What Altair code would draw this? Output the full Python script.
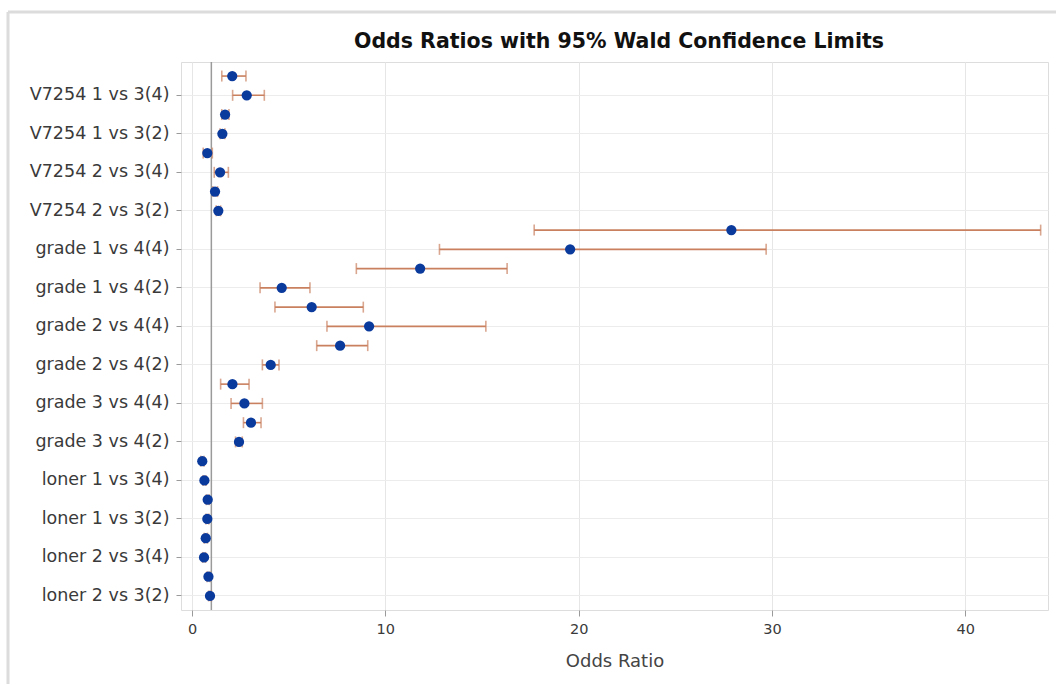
import altair as alt
import pandas as pd

labels = [
    "V7254 1 vs 3(5)", "V7254 1 vs 3(4)", "V7254 1 vs 3(3)", "V7254 1 vs 3(2)",
    "V7254 2 vs 3(5)", "V7254 2 vs 3(4)", "V7254 2 vs 3(3)", "V7254 2 vs 3(2)",
    "grade 1 vs 4(5)", "grade 1 vs 4(4)", "grade 1 vs 4(3)", "grade 1 vs 4(2)",
    "grade 2 vs 4(5)", "grade 2 vs 4(4)", "grade 2 vs 4(3)", "grade 2 vs 4(2)",
    "grade 3 vs 4(5)", "grade 3 vs 4(4)", "grade 3 vs 4(3)", "grade 3 vs 4(2)",
    "loner 1 vs 3(5)", "loner 1 vs 3(4)", "loner 1 vs 3(3)", "loner 1 vs 3(2)",
    "loner 2 vs 3(5)", "loner 2 vs 3(4)", "loner 2 vs 3(3)", "loner 2 vs 3(2)",
]
shown_labels = [l for i, l in enumerate(labels) if i % 2 == 1]

odds = [2.08, 2.83, 1.71, 1.57, 0.79, 1.45, 1.19, 1.36,
        27.9, 19.56, 11.8, 4.64, 6.19, 9.16, 7.66, 4.07,
        2.09, 2.71, 3.05, 2.43, 0.53, 0.64, 0.81, 0.79,
        0.71, 0.62, 0.85, 0.93]
lower = [1.54, 2.10, 1.54, 1.45, 0.58, 1.15, 1.08, 1.25,
         17.7, 12.8, 8.5, 3.52, 4.29, 6.98, 6.45, 3.64,
         1.48, 2.02, 2.66, 2.25, 0.45, 0.57, 0.74, 0.72,
         0.63, 0.55, 0.78, 0.86]
upper = [2.79, 3.74, 1.91, 1.70, 1.05, 1.88, 1.32, 1.48,
         43.9, 29.7, 16.3, 6.10, 8.86, 15.2, 9.09, 4.50,
         2.95, 3.64, 3.57, 2.60, 0.62, 0.72, 0.89, 0.87,
         0.80, 0.70, 0.93, 1.00]

title_text = ["Odds Ratios with 95% Wald Confidence Limits"]

df = pd.DataFrame({"label": labels, "odds": odds, "lower": lower, "upper": upper})
ref = pd.DataFrame({"ref": [1.0]})
tdf = pd.DataFrame({"t": title_text})

FONT = "DejaVu Sans"
xscale = alt.Scale(domain=[-0.57, 44.28], nice=False, zero=False)
yenc = alt.Y(
    "label:N",
    sort=labels,
    scale=alt.Scale(padding=0.46),
    axis=alt.Axis(
        values=shown_labels, title=None, labelFont=FONT, labelFontSize=17.5,
        labelColor="#3a3a3a", tickColor="#9a9a9a", tickSize=5, labelPadding=7,
        domain=False, grid=True, gridColor="#ececec", gridWidth=1,
    ),
)

base = alt.Chart(df)

refline = alt.Chart(ref).mark_rule(color="#9a9a9a", strokeWidth=1.5).encode(
    x=alt.X("ref:Q", scale=xscale)
)

bars = base.mark_rule(color="#c9805f", strokeWidth=1.6).encode(
    x=alt.X(
        "lower:Q", scale=xscale,
        axis=alt.Axis(
            values=[0, 10, 20, 30, 40], title="Odds Ratio", labelFont=FONT,
            labelFontSize=14.5, labelColor="#3a3a3a", titleFont=FONT,
            titleFontSize=18, titleFontWeight="normal", titleColor="#444444",
            titlePadding=17, tickColor="#9a9a9a", tickSize=6, labelPadding=6,
            domain=False, grid=True, gridColor="#e6e6e6", format="d",
        ),
    ),
    x2="upper:Q",
    y=yenc,
)

cap_lo = base.mark_tick(color="#c9805f", size=11, thickness=1.6).encode(
    x=alt.X("lower:Q", scale=xscale), y=yenc
)
cap_hi = base.mark_tick(color="#c9805f", size=11, thickness=1.6).encode(
    x=alt.X("upper:Q", scale=xscale), y=yenc
)

points = base.mark_circle(color="#0a3a9c", size=105, opacity=1).encode(
    x=alt.X("odds:Q", scale=xscale), y=yenc
)

frame_top = alt.Chart(ref).mark_rule(color="#dcdcdc", strokeWidth=3, clip=False).encode(
    x=alt.value(-173), x2=alt.value(880), y=alt.value(-50)
)
frame_left = alt.Chart(ref).mark_rule(color="#dcdcdc", strokeWidth=3, clip=False).encode(
    x=alt.value(-173), y=alt.value(-50), y2=alt.value(80 + 548)
)

title = alt.Chart(tdf).mark_text(
    font=FONT, fontSize=20.5, fontWeight="bold", color="#111111",
    align="center", baseline="middle", clip=False,
).encode(text="t:N", x=alt.value(438), y=alt.value(-20))

chart = (
    alt.layer(frame_top, frame_left, bars, refline, cap_lo, cap_hi, points, title)
    .properties(
        width=867, height=548,
        autosize=alt.AutoSizeParams(type="none"),
        padding={"left": 181, "top": 62, "right": 8, "bottom": 74},
    )
    .configure_view(stroke="#a8a8a8", strokeWidth=1)
    .configure(background="white")
)

chart.save("out.html", embed_options={"renderer": "svg", "actions": False})
